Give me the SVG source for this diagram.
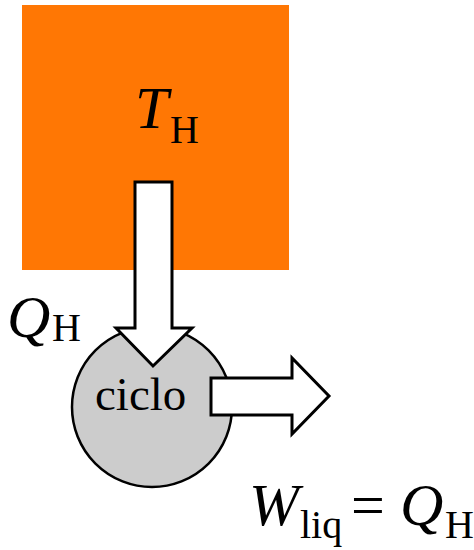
<svg xmlns="http://www.w3.org/2000/svg" width="474" height="550" viewBox="0 0 474 550">
<style>
.t{font-family:"Liberation Serif","Times New Roman",serif;fill:#000}
.i{font-style:italic}
.arrow{fill:#fff;stroke:#000;stroke-width:3;stroke-linejoin:miter}
</style>
<rect width="474" height="550" fill="#fff"/>
<g id="reservoir">
<rect x="22" y="5" width="267" height="265" fill="#FF7704"/>
<text class="t i" x="135" y="128" font-size="60">T</text>
<text class="t" x="170" y="143" font-size="40">H</text>
</g>
<g id="cycle">
<circle cx="152" cy="407" r="80" fill="#CCCCCC" stroke="#000" stroke-width="2.5"/>
<text class="t" x="95" y="410" font-size="47">ciclo</text>
</g>
<g id="connectors">
<path class="arrow" d="M135,182 H172 V328 H192 L153,366 L116,328 H135 Z"/>
<path class="arrow" d="M211,378 H292 V358 L329,396 L292,434 V415 H211 Z"/>
</g>
<g id="labels">
<text class="t i" x="7" y="337" font-size="60">Q</text>
<text class="t" x="52" y="341" font-size="40">H</text>
<text class="t i" x="249" y="525" font-size="60">W</text>
<text class="t" x="300" y="538" font-size="40">liq</text>
<text class="t" x="351" y="525" font-size="60">=</text>
<text class="t i" x="400" y="525" font-size="60">Q</text>
<text class="t" x="445" y="538" font-size="40">H</text>
</g>
</svg>
